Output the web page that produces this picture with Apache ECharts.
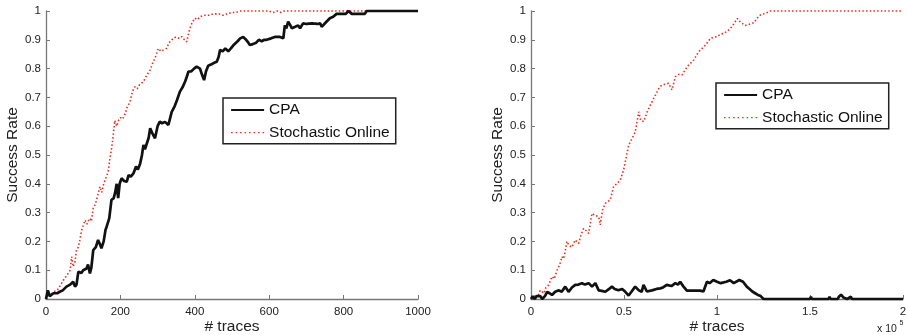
<!DOCTYPE html>
<html><head><meta charset="utf-8">
<script src="https://cdn.jsdelivr.net/npm/echarts@6/dist/echarts.min.js"></script>
<style>html,body{margin:0;padding:0;background:#fff}#c{width:908px;height:335px}</style>
</head><body><div id="c"></div>
<script>
// ---- Data ----
const seriesNames = ['CPA', 'Stochastic Online'];
const yTicks = [0,0.1,0.2,0.3,0.4,0.5,0.6,0.7,0.8,0.9,1];
const leftXTicks = [0,200,400,600,800,1000];
const rightXTicks = [0,0.5,1,1.5,2]; // x 10^5

const leftCPA = [[0,0],[5,0.03],[10,0.01],[20,0.02],[30,0.02],[37,0.025],[45,0.03],[55,0.043],[65,0.05],[73,0.06],[78,0.043],[82,0.05],[87,0.095],[95,0.09],[100,0.1],[109,0.106],[113,0.12],[118,0.089],[122,0.11],[127,0.17],[134,0.18],[140,0.205],[145,0.19],[149,0.176],[155,0.2],[160,0.24],[163,0.251],[170,0.28],[176,0.344],[182,0.35],[186,0.37],[190,0.4],[194,0.35],[198,0.4],[203,0.419],[210,0.41],[217,0.407],[222,0.43],[228,0.425],[235,0.436],[242,0.46],[247,0.45],[253,0.47],[258,0.5],[262,0.535],[266,0.52],[271,0.517],[276,0.56],[280,0.593],[286,0.575],[293,0.558],[300,0.6],[306,0.616],[312,0.61],[320,0.615],[329,0.604],[334,0.63],[338,0.65],[346,0.67],[352,0.69],[360,0.72],[367,0.735],[374,0.755],[378,0.77],[383,0.79],[390,0.79],[398,0.8],[405,0.807],[414,0.8],[419,0.78],[425,0.76],[430,0.79],[436,0.81],[445,0.815],[452,0.82],[459,0.824],[464,0.84],[468,0.865],[475,0.86],[482,0.87],[490,0.86],[497,0.87],[503,0.88],[508,0.88],[515,0.895],[522,0.905],[530,0.91],[538,0.9],[544,0.89],[548,0.882],[556,0.885],[565,0.89],[572,0.9],[580,0.895],[587,0.9],[593,0.9],[605,0.905],[615,0.91],[629,0.91],[638,0.905],[642,0.95],[646,0.94],[651,0.963],[657,0.95],[661,0.94],[670,0.945],[678,0.95],[683,0.94],[691,0.957],[700,0.955],[715,0.957],[730,0.955],[737,0.957],[741,0.945],[746,0.95],[752,0.96],[763,0.975],[772,0.98],[781,0.99],[795,0.99],[806,0.99],[813,1.0],[818,1.0],[822,0.99],[840,0.99],[857,0.99],[862,1.0],[1000,1.0]];

const leftSO = [[0,0],[10,0.01],[20,0.025],[30,0.03],[40,0.05],[47,0.066],[55,0.08],[60,0.09],[65,0.1],[69,0.147],[73,0.112],[78,0.13],[82,0.17],[87,0.18],[91,0.205],[96,0.24],[100,0.235],[105,0.274],[110,0.26],[113,0.27],[118,0.28],[122,0.27],[127,0.315],[133,0.33],[137,0.35],[141,0.35],[145,0.39],[150,0.37],[155,0.4],[159,0.413],[164,0.43],[168,0.448],[172,0.49],[176,0.52],[180,0.56],[185,0.62],[190,0.6],[195,0.62],[200,0.63],[206,0.625],[212,0.64],[218,0.665],[226,0.685],[232,0.72],[239,0.737],[245,0.73],[252,0.745],[262,0.755],[270,0.775],[280,0.795],[287,0.82],[294,0.84],[302,0.87],[309,0.86],[316,0.865],[324,0.87],[331,0.89],[342,0.905],[350,0.91],[358,0.905],[365,0.911],[372,0.9],[378,0.893],[383,0.92],[387,0.94],[393,0.96],[400,0.975],[407,0.97],[414,0.98],[425,0.985],[438,0.985],[450,0.99],[465,0.99],[476,0.985],[486,0.99],[500,0.995],[510,0.995],[521,1.0],[600,1.0],[610,0.995],[622,1.0],[632,0.995],[640,1.0],[1000,1.0]];

const rightCPA = [[0,0],[0.01,0.01],[0.02,0],[0.03,0.01],[0.04,0.005],[0.05,0.01],[0.06,0],[0.075,0.01],[0.082,0.01],[0.087,0.025],[0.1,0.02],[0.113,0.014],[0.13,0.025],[0.15,0.03],[0.165,0.025],[0.184,0.043],[0.202,0.025],[0.22,0.04],[0.238,0.049],[0.255,0.05],[0.274,0.055],[0.29,0.05],[0.31,0.055],[0.328,0.043],[0.346,0.055],[0.364,0.03],[0.38,0.028],[0.4,0.025],[0.42,0.035],[0.435,0.043],[0.45,0.035],[0.47,0.03],[0.49,0.035],[0.507,0.025],[0.525,0.012],[0.54,0.025],[0.56,0.043],[0.58,0.03],[0.595,0.025],[0.605,0.049],[0.623,0.026],[0.65,0.03],[0.675,0.035],[0.695,0.037],[0.71,0.04],[0.73,0.049],[0.755,0.045],[0.776,0.055],[0.79,0.05],[0.802,0.06],[0.812,0.055],[0.82,0.043],[0.838,0.029],[0.91,0.029],[0.927,0.026],[0.946,0.06],[0.96,0.055],[0.98,0.066],[1.0,0.06],[1.02,0.055],[1.05,0.06],[1.07,0.065],[1.09,0.055],[1.12,0.066],[1.14,0.06],[1.16,0.043],[1.175,0.035],[1.19,0.026],[1.205,0.02],[1.22,0.014],[1.235,0.01],[1.25,0],[1.5,0],[1.505,0.008],[1.51,0],[1.6,0],[1.605,0.008],[1.61,0],[1.65,0],[1.655,0.008],[1.667,0.015],[1.68,0.005],[1.69,0.01],[1.7,0],[1.72,0.008],[1.725,0],[2,0]];

const rightSO = [[0,0.005],[0.02,0.01],[0.04,0.015],[0.05,0.03],[0.07,0.02],[0.08,0.04],[0.095,0.049],[0.113,0.078],[0.125,0.07],[0.14,0.1],[0.155,0.12],[0.166,0.147],[0.175,0.14],[0.184,0.165],[0.193,0.2],[0.205,0.185],[0.22,0.18],[0.238,0.205],[0.256,0.193],[0.27,0.225],[0.283,0.245],[0.3,0.235],[0.31,0.228],[0.328,0.297],[0.345,0.29],[0.364,0.286],[0.372,0.257],[0.385,0.31],[0.4,0.332],[0.426,0.344],[0.444,0.39],[0.46,0.4],[0.48,0.413],[0.498,0.448],[0.507,0.477],[0.525,0.534],[0.545,0.56],[0.561,0.581],[0.579,0.65],[0.59,0.62],[0.606,0.616],[0.625,0.65],[0.642,0.674],[0.669,0.708],[0.69,0.735],[0.705,0.743],[0.74,0.749],[0.758,0.726],[0.776,0.772],[0.795,0.78],[0.812,0.778],[0.84,0.807],[0.875,0.83],[0.902,0.859],[0.92,0.87],[0.938,0.882],[0.965,0.905],[0.985,0.91],[1.0,0.911],[1.02,0.92],[1.037,0.922],[1.055,0.93],[1.073,0.94],[1.09,0.955],[1.109,0.974],[1.12,0.965],[1.136,0.957],[1.15,0.95],[1.163,0.951],[1.18,0.955],[1.2,0.96],[1.215,0.975],[1.233,0.986],[1.25,0.99],[1.27,0.995],[1.287,1.0],[2,1.0]];

// ---- Styles ----
const FONT = 'Liberation Sans, Arial, Helvetica, sans-serif';
const BLACK = '#111';
const RED = '#e6301f';
const AXIS = '#777';
const TXT = '#222';
const HIDDEN_SYMBOL = { color: 'rgba(0,0,0,0)', borderWidth: 0, opacity: 0 };

function xAxisDef(gridIndex, max, interval, fmt) {
  return {
    type: 'value', gridIndex, min: 0, max, interval,
    name: '# traces', nameLocation: 'middle', nameGap: 19.5, nameMoveOverlap: false,
    nameTextStyle: { fontFamily: FONT, fontSize: 15.5, color: TXT },
    axisLine: { show: true, lineStyle: { color: AXIS, width: 1.3 } },
    axisTick: { show: true, inside: true, length: 4, lineStyle: { color: AXIS, width: 1 } },
    axisLabel: { fontFamily: FONT, fontSize: 11.5, color: TXT, margin: 7, formatter: fmt },
    splitLine: { show: false }
  };
}
function yAxisDef(gridIndex) {
  return {
    type: 'value', gridIndex, min: 0, max: 1, interval: 0.1,
    name: 'Success Rate', nameLocation: 'middle', nameGap: 25, nameMoveOverlap: false,
    nameTextStyle: { fontFamily: FONT, fontSize: 15.5, color: TXT },
    axisLine: { show: true, lineStyle: { color: AXIS, width: 1.3 } },
    axisTick: { show: true, inside: true, length: 4, lineStyle: { color: AXIS, width: 1 } },
    axisLabel: { fontFamily: FONT, fontSize: 11.5, color: TXT, margin: 5,
      formatter: v => String(Math.round(v * 10) / 10) },
    splitLine: { show: false }
  };
}
function legendDef(left, top) {
  return {
    orient: 'vertical', left, top,
    backgroundColor: '#fff', borderColor: '#222', borderWidth: 1.5, borderRadius: 0,
    padding: [3, 6, 2, 7], itemWidth: 33, itemHeight: 14, itemGap: 4.7,
    textStyle: { fontFamily: FONT, fontSize: 15.5, color: '#111', lineHeight: 18 },
    data: [
      { name: seriesNames[0], itemStyle: HIDDEN_SYMBOL, lineStyle: { color: BLACK, width: 2.2, type: 'solid' } },
      { name: seriesNames[1], itemStyle: HIDDEN_SYMBOL, lineStyle: { color: RED, width: 1.3, type: [1.5, 3] } }
    ],
    selectedMode: false
  };
}

const chart = echarts.init(document.getElementById('c'), null, { renderer: 'canvas' });
chart.setOption({
  animation: false,
  backgroundColor: '#fff',
  grid: [
    { left: 46, top: 11, width: 372, height: 288, outerBoundsMode: 'none', containLabel: false },
    { left: 531, top: 11, width: 372, height: 288, outerBoundsMode: 'none', containLabel: false }
  ],
  xAxis: [
    xAxisDef(0, 1000, 200, v => String(v)),
    xAxisDef(1, 2, 0.5, v => String(Math.round(v * 10) / 10))
  ],
  yAxis: [yAxisDef(0), yAxisDef(1)],
  legend: [legendDef(223, 98), legendDef(716, 83)],
  series: [
    { name: seriesNames[1], type: 'line', xAxisIndex: 0, yAxisIndex: 0, data: leftSO, symbol: 'none', clip: false,
      lineStyle: { color: RED, width: 1.6, type: [1.5, 2.2] }, itemStyle: { color: RED }, z: 2 },
    { name: seriesNames[0], type: 'line', xAxisIndex: 0, yAxisIndex: 0, data: leftCPA, symbol: 'none', clip: false,
      lineStyle: { color: BLACK, width: 2.7 }, itemStyle: { color: BLACK }, z: 3 },
    { name: seriesNames[1], type: 'line', xAxisIndex: 1, yAxisIndex: 1, data: rightSO, symbol: 'none', clip: false,
      lineStyle: { color: RED, width: 1.6, type: [1.5, 2.2] }, itemStyle: { color: RED }, z: 2 },
    { name: seriesNames[0], type: 'line', xAxisIndex: 1, yAxisIndex: 1, data: rightCPA, symbol: 'none', clip: false,
      lineStyle: { color: BLACK, width: 2.7 }, itemStyle: { color: BLACK }, z: 3 }
  ],
  graphic: [
    { type: 'text', left: 877, top: 324, style: { text: 'x 10', font: '10.5px ' + FONT, fill: TXT } },
    { type: 'text', left: 899.5, top: 320, style: { text: '5', font: '7px ' + FONT, fill: TXT } }
  ]
});
</script>
</body></html>
